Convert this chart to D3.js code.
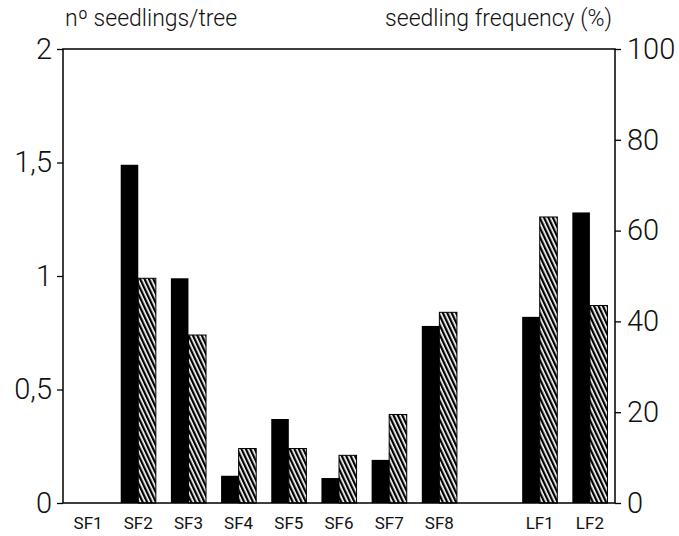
<!DOCTYPE html>
<html>
<head>
  <script src="https://d3js.org/d3.v7.min.js"></script>
  <style>
    body { margin: 0; background: #fff; }
    text { font-family: Roboto, "Open Sans", sans-serif; fill: #111; }
    .tick-label { font-size: 29px; font-weight: 300; }
    .cat-label { font-size: 17px; font-weight: 400; }
    .title { font-size: 23px; font-weight: 300; }
  </style>
</head>
<body>
  <svg id="chart" width="679" height="536"></svg>
  <script>
    // values
    const categories = ["SF1", "SF2", "SF3", "SF4", "SF5", "SF6", "SF7", "SF8", "LF1", "LF2"];
    const seedlingsPerTree = [0, 1.49, 0.99, 0.12, 0.37, 0.11, 0.19, 0.78, 0.82, 1.28];
    const frequencyPct = [0, 49.5, 37, 12, 12, 10.5, 19.5, 42, 63, 43.5];
    const leftTicks = [0, 0.5, 1, 1.5, 2];
    const rightTicks = [0, 20, 40, 60, 80, 100];

    const svg = d3.select('#chart');
    const plotLeft = 63, plotRight = 615, plotTop = 49, plotBottom = 503;

    // empty slot between the SF and LF groups
    const domain = categories.slice(0, 8).concat(['gap'], categories.slice(8));
    const x = d3.scaleBand()
      .domain(domain)
      .range([plotLeft, plotRight])
      .paddingInner(0.3)
      .paddingOuter(0.15);

    const yLeft = d3.scaleLinear().domain([0, 2]).range([plotBottom, plotTop]);
    const yRight = d3.scaleLinear().domain([0, 100]).range([plotBottom, plotTop]);

    const comma = d3.formatLocale({ decimal: ',', thousands: '.', grouping: [3], currency: ['', ''] }).format('~g');

    // hatch pattern
    const defs = svg.append('defs');
    defs.append('pattern')
      .attr('id', 'hatch')
      .attr('patternUnits', 'userSpaceOnUse')
      .attr('width', 4)
      .attr('height', 4)
      .attr('patternTransform', 'rotate(-25)')
      .append('rect')
      .attr('x', 0).attr('y', 0)
      .attr('width', 2.3).attr('height', 4)
      .attr('fill', '#000');

    const data = categories.map((c, i) => ({ cat: c, n: seedlingsPerTree[i], f: frequencyPct[i] }));
    const half = x.bandwidth() / 2;

    // black bars (seedlings/tree)
    svg.selectAll('.bar-n')
      .data(data)
      .enter()
      .append('rect')
      .attr('class', 'bar-n')
      .attr('x', d => x(d.cat))
      .attr('width', half)
      .attr('y', d => yLeft(d.n))
      .attr('height', d => yLeft(0) - yLeft(d.n))
      .attr('fill', '#000');

    // hatched bars (frequency)
    svg.selectAll('.bar-f')
      .data(data.filter(d => d.f > 0))
      .enter()
      .append('rect')
      .attr('class', 'bar-f')
      .attr('x', d => x(d.cat) + half)
      .attr('width', half)
      .attr('y', d => yRight(d.f))
      .attr('height', d => yRight(0) - yRight(d.f))
      .attr('fill', 'url(#hatch)')
      .attr('stroke', '#000')
      .attr('stroke-width', 1);

    // frame
    svg.append('rect')
      .attr('x', plotLeft).attr('y', plotTop)
      .attr('width', plotRight - plotLeft).attr('height', plotBottom - plotTop)
      .attr('fill', 'none')
      .attr('stroke', '#000')
      .attr('stroke-width', 1.5);

    // left axis
    const gl = svg.append('g')
      .attr('transform', `translate(${plotLeft},0)`)
      .call(d3.axisLeft(yLeft).tickValues(leftTicks).tickFormat(comma).tickSize(6).tickPadding(5));
    gl.select('.domain').remove();
    gl.selectAll('line').attr('stroke', '#000').attr('stroke-width', 1.3);
    gl.selectAll('text').attr('class', 'tick-label').attr('fill', '#111');

    // right axis
    const gr = svg.append('g')
      .attr('transform', `translate(${plotRight},0)`)
      .call(d3.axisRight(yRight).tickValues(rightTicks).tickSize(6).tickPadding(6));
    gr.select('.domain').remove();
    gr.selectAll('line').attr('stroke', '#000').attr('stroke-width', 1.3);
    gr.selectAll('text').attr('class', 'tick-label').attr('fill', '#111');

    // category labels
    svg.selectAll('.cat-label')
      .data(categories)
      .enter()
      .append('text')
      .attr('class', 'cat-label')
      .attr('x', d => x(d) + x.bandwidth() / 2)
      .attr('y', 529)
      .attr('text-anchor', 'middle')
      .text(d => d);

    // axis titles
    svg.append('text')
      .attr('class', 'title')
      .attr('x', 65)
      .attr('y', 26)
      .text('nº seedlings/tree');

    svg.append('text')
      .attr('class', 'title')
      .attr('x', 612)
      .attr('y', 26)
      .attr('text-anchor', 'end')
      .text('seedling frequency (%)');
  </script>
</body>
</html>
